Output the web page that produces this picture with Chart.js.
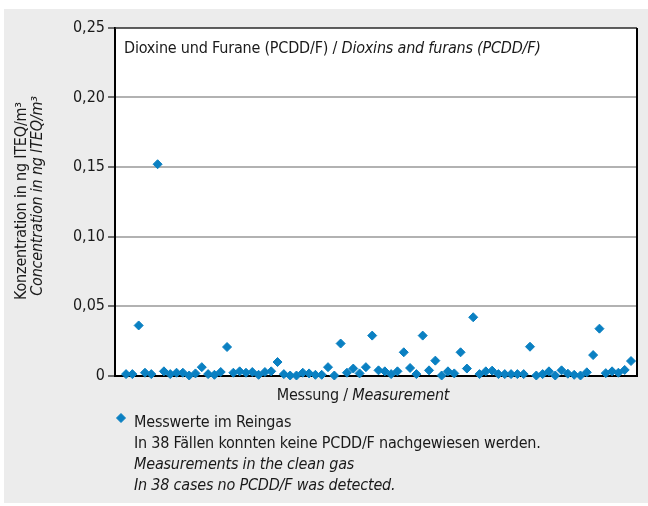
<!DOCTYPE html>
<html>
<head>
<meta charset="utf-8">
<script src="https://cdn.jsdelivr.net/npm/chart.js@4.4.0/dist/chart.umd.min.js"></script>
<style>
    html, body { margin: 0; padding: 0; background: #fff; }
    #wrap { position: relative; width: 648px; height: 506px; }
</style>
</head>
<body>
<div id="wrap"><canvas id="chart" width="648" height="506"></canvas></div>
<script>
// Chart data (concentration in ng ITEQ/m3 per measurement)
const measurementValues = [
    0.001, 0.001, 0.036, 0.002, 0.001, 0.152, 0.003, 0.001, 0.002, 0.002,
    0, 0.0015, 0.006, 0.001, 0.0005, 0.0025, 0.0205, 0.002, 0.003, 0.002,
    0.0025, 0.0005, 0.0025, 0.003, 0.0097, 0.001, 0, 0, 0.002, 0.0015,
    0.0005, 0.0005, 0.006, 0, 0.023, 0.002, 0.005, 0.0015, 0.006, 0.0287,
    0.0037, 0.003, 0.001, 0.003, 0.0167, 0.0054, 0.001, 0.0287, 0.0037, 0.0107,
    0, 0.003, 0.0015, 0.0167, 0.005, 0.0419, 0.001, 0.003, 0.0035, 0.001,
    0.001, 0.001, 0.001, 0.001, 0.0207, 0, 0.001, 0.003, 0, 0.0037,
    0.0013, 0.0005, 0, 0.0023, 0.0147, 0.0337, 0.0017, 0.003, 0.002, 0.004,
    0.0104
];
const yTicks = [0, 0.05, 0.10, 0.15, 0.20, 0.25];
const yTickLabels = ['0', '0,05', '0,10', '0,15', '0,20', '0,25'];

const chartTitle = [['Dioxine und Furane (PCDD/F) / ', false], ['Dioxins and furans (PCDD/F)', true]];
const yTitleDe = 'Konzentration in ng ITEQ/m³';
const yTitleEn = 'Concentration in ng ITEQ/m³';
const xTitle = [['Messung / ', false], ['Measurement', true]];
const legendLines = [
    ['Messwerte im Reingas', false],
    ['In 38 Fällen konnten keine PCDD/F nachgewiesen werden.', false],
    ['Measurements in the clean gas', true],
    ['In 38 cases no PCDD/F was detected.', true]
];

const FONT = "'Liberation Sans Narrow', 'Arial Narrow', 'DejaVu Sans Condensed', sans-serif";
const SIZE = 16;
const BLUE = '#0a80c2';
const TEXT = '#1a1a1a';

function font(italic) {
    return (italic ? 'italic ' : '') + SIZE + 'px ' + FONT;
}

// Draw a line made of normal / italic pieces
function drawRuns(ctx, runs, x, y, align) {
    let total = 0;
    runs.forEach(r => { ctx.font = font(r[1]); total += ctx.measureText(r[0]).width; });
    let cx = align === 'center' ? x - total / 2 : x;
    ctx.textAlign = 'left';
    runs.forEach(r => {
        ctx.font = font(r[1]);
        ctx.fillText(r[0], cx, y);
        cx += ctx.measureText(r[0]).width;
    });
}

// Background panel, plot box and frame
const framePlugin = {
    id: 'frame',
    beforeDraw(chart) {
        const ctx = chart.ctx;
        const a = chart.chartArea;
        ctx.save();
        ctx.fillStyle = '#fff';
        ctx.fillRect(0, 0, chart.width, chart.height);
        ctx.fillStyle = '#ececec';
        ctx.fillRect(4, 9, chart.width - 4, chart.height - 12);
        ctx.fillStyle = '#fff';
        ctx.fillRect(a.left, a.top, a.right - a.left, a.bottom - a.top);
        ctx.restore();
    },
    beforeDatasetsDraw(chart) {
        const ctx = chart.ctx;
        const a = chart.chartArea;
        ctx.save();
        ctx.strokeStyle = '#2a2a2a';
        ctx.lineWidth = 1.5;
        ctx.beginPath();
        ctx.moveTo(a.left, a.top);
        ctx.lineTo(a.right, a.top);
        ctx.stroke();
        ctx.strokeStyle = '#000';
        ctx.lineWidth = 2;
        ctx.beginPath();
        ctx.moveTo(a.right, a.top);
        ctx.lineTo(a.right, a.bottom);
        ctx.stroke();
        ctx.restore();
    },
    afterDraw(chart) {
        const ctx = chart.ctx;
        const a = chart.chartArea;
        ctx.save();
        ctx.letterSpacing = '-0.2px';
        ctx.fillStyle = TEXT;
        ctx.textBaseline = 'alphabetic';

        // title inside the plot
        drawRuns(ctx, chartTitle, a.left + 9, a.top + 25, 'left');

        // x axis title
        drawRuns(ctx, xTitle, 363, a.bottom + 24, 'center');

        // y axis title, two rotated lines
        ctx.textAlign = 'center';
        ctx.textBaseline = 'middle';
        ctx.save();
        ctx.translate(22, 201);
        ctx.rotate(-Math.PI / 2);
        ctx.font = font(false);
        ctx.fillText(yTitleDe, 0, 0);
        ctx.restore();
        ctx.save();
        ctx.translate(38, 196);
        ctx.rotate(-Math.PI / 2);
        ctx.font = font(true);
        ctx.fillText(yTitleEn, 0, 0);
        ctx.restore();

        // legend
        ctx.fillStyle = BLUE;
        ctx.strokeStyle = BLUE;
        Chart.helpers.drawPoint(ctx, { pointStyle: 'rectRot', radius: 4.5, borderWidth: 1 }, 121, 418);
        ctx.fillStyle = TEXT;
        ctx.textBaseline = 'alphabetic';
        legendLines.forEach((line, i) => {
            drawRuns(ctx, [line], 134, 427 + i * 21, 'left');
        });
        ctx.restore();
    }
};

const ctx = document.getElementById('chart');

new Chart(ctx, {
    type: 'scatter',
    data: {
        datasets: [{
            label: legendLines[0][0],
            data: measurementValues.map((v, i) => ({ x: i + 1, y: v })),
            pointStyle: 'rectRot',
            pointRadius: 4.5,
            pointBorderWidth: 1,
            backgroundColor: BLUE,
            borderColor: BLUE,
            clip: false
        }]
    },
    options: {
        responsive: false,
        animation: false,
        layout: {
            padding: { top: 28, right: 11, left: 0, bottom: 0 }
        },
        plugins: {
            legend: { display: false },
            tooltip: { enabled: false }
        },
        scales: {
            x: {
                type: 'linear',
                min: -0.75,
                max: 81.95,
                ticks: { display: false },
                grid: { display: false, drawTicks: false },
                border: { color: '#000', width: 2 },
                afterFit: scale => { scale.height = 130.5; }
            },
            y: {
                min: 0,
                max: 0.25,
                afterBuildTicks: scale => {
                    scale.ticks = yTicks.map(v => ({ value: v }));
                },
                ticks: {
                    callback: (value, index) => yTickLabels[index],
                    color: TEXT,
                    font: { family: FONT, size: SIZE },
                    padding: 3
                },
                grid: {
                    color: c => (c.tick && (c.tick.value === 0 || c.tick.value === 0.25)) ? 'rgba(0,0,0,0)' : '#b2b2b2',
                    lineWidth: 2,
                    tickLength: 7,
                    tickColor: '#444',
                    tickWidth: 1.5
                },
                border: { color: '#000', width: 2 },
                afterFit: scale => { scale.width = 115; }
            }
        }
    },
    plugins: [framePlugin]
});
</script>
</body>
</html>
